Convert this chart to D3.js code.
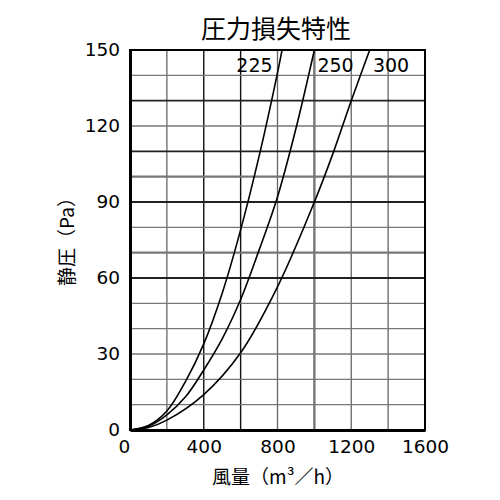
<!DOCTYPE html>
<html>
<head>
<meta charset="utf-8">
<script src="https://cdn.jsdelivr.net/npm/d3@7"></script>
<style>
  body { margin: 0; background: #fff; }
  svg { display: block; }
</style>
</head>
<body>
<svg id="chart" width="500" height="500"></svg>
<script>
// values: [flow m3/h, static pressure Pa]
const series225 = [[0, 0], [100, 1.8], [200, 7.5], [300, 19], [400, 34], [500, 54], [600, 79], [700, 108], [800, 141], [830, 152]];
const series250 = [[0, 0], [100, 1.5], [200, 6], [300, 13], [400, 23.7], [500, 36], [600, 51.5], [700, 71], [800, 92], [900, 119], [1000, 150]];
const series300 = [[0, 0], [100, 1], [200, 3.9], [400, 14], [600, 30.5], [800, 56.5], [1000, 90], [1100, 109], [1200, 130], [1300, 150]];
const seriesNames = ["225", "250", "300"];

const xTicks = [0, 400, 800, 1200, 1600];
const yTicks = [0, 30, 60, 90, 120, 150];
const xGrid = d3.range(0, 1601, 200);
const yGrid = d3.range(0, 151, 10);

const title = "圧力損失特性";
const xTitle = "風量（m³／h）";
const yTitle = "静圧（Pa）";

const svg = d3.select("#chart"),
  margin = { top: 50, right: 75, bottom: 70, left: 130 },
  width = 500 - margin.left - margin.right,
  height = 500 - margin.top - margin.bottom;

const numFont = "'DejaVu Sans', sans-serif";
const jpFont = "'Noto Sans CJK JP', sans-serif";

const x = d3.scaleLinear().domain([0, 1600]).range([0, width]);
const y = d3.scaleLinear().domain([0, 150]).range([height, 0]);

const g = svg.append("g").attr("transform", `translate(${margin.left},${margin.top})`);

// grid (the scan has some lines darker / heavier than others)
const darkX = [400, 600], heavyX = [1000];
const darkY = [130, 110, 90, 60], heavyY = [100, 70];

g.append("g")
  .selectAll("line")
  .data(xGrid.filter((d) => d > 0 && d < 1600))
  .enter()
  .append("line")
  .attr("x1", (d) => x(d))
  .attr("x2", (d) => x(d))
  .attr("y1", 0)
  .attr("y2", height)
  .attr("stroke", (d) => (darkX.includes(d) ? "#111" : heavyX.includes(d) ? "#777" : "#666"))
  .attr("stroke-width", (d) => (darkX.includes(d) ? 1.4 : heavyX.includes(d) ? 2.4 : 1.3));

g.append("g")
  .selectAll("line")
  .data(yGrid.filter((d) => d > 0 && d < 150))
  .enter()
  .append("line")
  .attr("x1", 0)
  .attr("x2", width)
  .attr("y1", (d) => y(d))
  .attr("y2", (d) => y(d))
  .attr("stroke", (d) => (darkY.includes(d) ? "#222" : "#777"))
  .attr("stroke-width", (d) => (darkY.includes(d) ? 1.8 : heavyY.includes(d) ? 2.4 : 1.3));

// curves
svg.append("defs")
  .append("clipPath")
  .attr("id", "plot-clip")
  .append("rect")
  .attr("width", width)
  .attr("height", height);

const line = d3
  .line()
  .x((d) => x(d[0]))
  .y((d) => y(d[1]))
  .curve(d3.curveCatmullRom);

g.append("g")
  .attr("clip-path", "url(#plot-clip)")
  .selectAll("path")
  .data([series225, series250, series300])
  .enter()
  .append("path")
  .attr("d", line)
  .attr("fill", "none")
  .attr("stroke", "#000")
  .attr("stroke-width", 1.6);

// curve names
const labelAt = [[675, 141.3], [1115, 141.3], [1416, 141.3]];
g.selectAll(".curve-label")
  .data(seriesNames)
  .enter()
  .append("text")
  .attr("class", "curve-label")
  .attr("x", (d, i) => x(labelAt[i][0]))
  .attr("y", (d, i) => y(labelAt[i][1]))
  .attr("text-anchor", "middle")
  .style("font-family", numFont)
  .style("font-size", "19px")
  .text((d) => d);

// frame
g.append("rect")
  .attr("width", width)
  .attr("height", height)
  .attr("fill", "none")
  .attr("stroke", "#000")
  .attr("stroke-width", 2);

// axes
const xAxis = d3.axisBottom(x).tickValues(xTicks).tickSize(0).tickFormat(d3.format("d"));
const yAxis = d3.axisLeft(y).tickValues(yTicks).tickSize(0).tickPadding(10).tickFormat(d3.format("d"));

const gx = g.append("g").attr("transform", `translate(0,${height})`).call(xAxis);
gx.select(".domain").attr("stroke", "#000").attr("stroke-width", 3);
gx.selectAll("text")
  .attr("y", 23)
  .attr("dy", 0)
  .attr("dx", (d) => (d === 0 ? -6 : 0))
  .style("font-family", numFont)
  .style("font-size", "18.5px")
  .attr("fill", "#000");

const gy = g.append("g").call(yAxis);
gy.select(".domain").attr("stroke", "#000").attr("stroke-width", 3);
gy.selectAll("text")
  .style("font-family", numFont)
  .style("font-size", "18.5px")
  .attr("fill", "#000");

// titles
svg.append("text")
  .attr("x", 276)
  .attr("y", 38)
  .attr("text-anchor", "middle")
  .style("font-family", jpFont)
  .style("font-size", "25px")
  .text(title);

svg.append("text")
  .attr("x", 278)
  .attr("y", 484)
  .attr("text-anchor", "middle")
  .style("font-family", jpFont)
  .style("font-size", "19px")
  .text(xTitle);

svg.append("text")
  .attr("transform", "translate(74,237) rotate(-90)")
  .attr("text-anchor", "middle")
  .style("font-family", jpFont)
  .style("font-size", "19px")
  .text(yTitle);
</script>
</body>
</html>
